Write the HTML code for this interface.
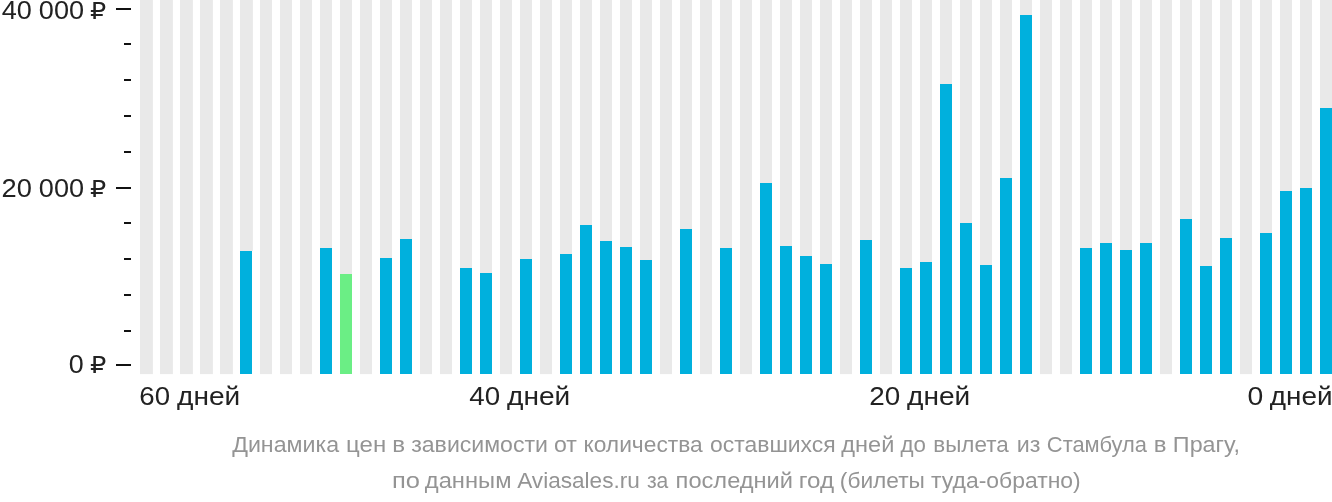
<!DOCTYPE html>
<html lang="ru"><head><meta charset="utf-8"><title>Динамика цен</title>
<style>
html,body{margin:0;padding:0;background:#fff;}
body{width:1332px;height:502px;overflow:hidden;position:relative;font-family:"Liberation Sans","DejaVu Sans",sans-serif;}
svg{position:absolute;left:0;top:0;display:block;}
text{white-space:pre;}
.ax{font-family:"Liberation Sans","DejaVu Sans",sans-serif;font-size:25px;fill:#222222;}
.axx{font-family:"Liberation Sans","DejaVu Sans",sans-serif;font-size:25.7px;fill:#222222;}
.rub{font-family:"DejaVu Sans","Liberation Sans",sans-serif;font-size:23.7px;}
.cap{font-family:"Liberation Sans","DejaVu Sans",sans-serif;font-size:22.5px;fill:#949494;}
</style></head><body>
<svg width="1332" height="502" viewBox="0 0 1332 502">

<g fill="#e9e9e9">
<rect x="140" y="0" width="12.9" height="374.1"/>
<rect x="160" y="0" width="12.9" height="374.1"/>
<rect x="180" y="0" width="12.9" height="374.1"/>
<rect x="200" y="0" width="12.9" height="374.1"/>
<rect x="220" y="0" width="12.9" height="374.1"/>
<rect x="240" y="0" width="12.9" height="251.0"/>
<rect x="260" y="0" width="12" height="374.1"/>
<rect x="280" y="0" width="12" height="374.1"/>
<rect x="300" y="0" width="12" height="374.1"/>
<rect x="320" y="0" width="12" height="248.0"/>
<rect x="340" y="0" width="12" height="274.0"/>
<rect x="360" y="0" width="12" height="374.1"/>
<rect x="380" y="0" width="12" height="258.0"/>
<rect x="400" y="0" width="12" height="239.0"/>
<rect x="420" y="0" width="12" height="374.1"/>
<rect x="440" y="0" width="12" height="374.1"/>
<rect x="460" y="0" width="12" height="268.0"/>
<rect x="480" y="0" width="12" height="273.0"/>
<rect x="500" y="0" width="12" height="374.1"/>
<rect x="520" y="0" width="12" height="259.0"/>
<rect x="540" y="0" width="12" height="374.1"/>
<rect x="560" y="0" width="12" height="254.0"/>
<rect x="580" y="0" width="12" height="225.0"/>
<rect x="600" y="0" width="12" height="241.0"/>
<rect x="620" y="0" width="12" height="247.0"/>
<rect x="640" y="0" width="12" height="260.0"/>
<rect x="660" y="0" width="12" height="374.1"/>
<rect x="680" y="0" width="12" height="229.0"/>
<rect x="700" y="0" width="12" height="374.1"/>
<rect x="720" y="0" width="12" height="248.0"/>
<rect x="740" y="0" width="12" height="374.1"/>
<rect x="760" y="0" width="12" height="183.0"/>
<rect x="780" y="0" width="12" height="246.0"/>
<rect x="800" y="0" width="12" height="256.0"/>
<rect x="820" y="0" width="12" height="264.0"/>
<rect x="840" y="0" width="12" height="374.1"/>
<rect x="860" y="0" width="12" height="240.0"/>
<rect x="880" y="0" width="12" height="374.1"/>
<rect x="900" y="0" width="12" height="268.0"/>
<rect x="920" y="0" width="12" height="262.0"/>
<rect x="940" y="0" width="12" height="84.0"/>
<rect x="960" y="0" width="12" height="223.0"/>
<rect x="980" y="0" width="12" height="265.0"/>
<rect x="1000" y="0" width="12" height="178.0"/>
<rect x="1020" y="0" width="12" height="15.0"/>
<rect x="1040" y="0" width="12" height="374.1"/>
<rect x="1060" y="0" width="12" height="374.1"/>
<rect x="1080" y="0" width="12" height="248.0"/>
<rect x="1100" y="0" width="12" height="243.0"/>
<rect x="1120" y="0" width="12" height="250.0"/>
<rect x="1140" y="0" width="12" height="243.0"/>
<rect x="1160" y="0" width="12" height="374.1"/>
<rect x="1180" y="0" width="12" height="219.0"/>
<rect x="1200" y="0" width="12" height="266.0"/>
<rect x="1220" y="0" width="12" height="238.0"/>
<rect x="1240" y="0" width="12" height="374.1"/>
<rect x="1260" y="0" width="12" height="233.0"/>
<rect x="1280" y="0" width="12" height="191.0"/>
<rect x="1300" y="0" width="12" height="188.0"/>
<rect x="1320" y="0" width="12" height="108.0"/>
</g>
<g fill="#00b0dd">
<rect x="240" y="251.00" width="12" height="123.00"/>
<rect x="320" y="248.00" width="12" height="126.00"/>
<rect x="340" y="274.00" width="12" height="100.00" fill="#6bee85"/>
<rect x="380" y="258.00" width="12" height="116.00"/>
<rect x="400" y="239.00" width="12" height="135.00"/>
<rect x="460" y="268.00" width="12" height="106.00"/>
<rect x="480" y="273.00" width="12" height="101.00"/>
<rect x="520" y="259.00" width="12" height="115.00"/>
<rect x="560" y="254.00" width="12" height="120.00"/>
<rect x="580" y="225.00" width="12" height="149.00"/>
<rect x="600" y="241.00" width="12" height="133.00"/>
<rect x="620" y="247.00" width="12" height="127.00"/>
<rect x="640" y="260.00" width="12" height="114.00"/>
<rect x="680" y="229.00" width="12" height="145.00"/>
<rect x="720" y="248.00" width="12" height="126.00"/>
<rect x="760" y="183.00" width="12" height="191.00"/>
<rect x="780" y="246.00" width="12" height="128.00"/>
<rect x="800" y="256.00" width="12" height="118.00"/>
<rect x="820" y="264.00" width="12" height="110.00"/>
<rect x="860" y="240.00" width="12" height="134.00"/>
<rect x="900" y="268.00" width="12" height="106.00"/>
<rect x="920" y="262.00" width="12" height="112.00"/>
<rect x="940" y="84.00" width="12" height="290.00"/>
<rect x="960" y="223.00" width="12" height="151.00"/>
<rect x="980" y="265.00" width="12" height="109.00"/>
<rect x="1000" y="178.00" width="12" height="196.00"/>
<rect x="1020" y="15.00" width="12" height="359.00"/>
<rect x="1080" y="248.00" width="12" height="126.00"/>
<rect x="1100" y="243.00" width="12" height="131.00"/>
<rect x="1120" y="250.00" width="12" height="124.00"/>
<rect x="1140" y="243.00" width="12" height="131.00"/>
<rect x="1180" y="219.00" width="12" height="155.00"/>
<rect x="1200" y="266.00" width="12" height="108.00"/>
<rect x="1220" y="238.00" width="12" height="136.00"/>
<rect x="1260" y="233.00" width="12" height="141.00"/>
<rect x="1280" y="191.00" width="12" height="183.00"/>
<rect x="1300" y="188.00" width="12" height="186.00"/>
<rect x="1320" y="108.00" width="12" height="266.00"/>
</g>
<g fill="#111">
<rect x="116" y="8" width="15" height="2"/>
<rect x="124" y="43" width="7" height="2"/>
<rect x="124" y="79" width="7" height="2"/>
<rect x="124" y="115" width="7" height="2"/>
<rect x="124" y="151" width="7" height="2"/>
<rect x="116" y="187" width="15" height="2"/>
<rect x="124" y="222" width="7" height="2"/>
<rect x="124" y="258" width="7" height="2"/>
<rect x="124" y="294" width="7" height="2"/>
<rect x="124" y="330" width="7" height="2"/>
<rect x="116" y="364" width="15" height="2"/>
</g>
<text class="ax" y="18.7"><tspan x="1.76" textLength="30.12" lengthAdjust="spacingAndGlyphs">40</tspan> <tspan x="38.82" textLength="45.23" lengthAdjust="spacingAndGlyphs">000</tspan> <tspan class="rub" x="90.09" textLength="16.20" lengthAdjust="spacingAndGlyphs">₽</tspan></text>
<text class="ax" y="197.0"><tspan x="1.54" textLength="30.35" lengthAdjust="spacingAndGlyphs">20</tspan> <tspan x="38.82" textLength="45.23" lengthAdjust="spacingAndGlyphs">000</tspan> <tspan class="rub" x="90.09" textLength="16.20" lengthAdjust="spacingAndGlyphs">₽</tspan></text>
<text class="ax" y="372.7"><tspan x="68.83" textLength="14.95" lengthAdjust="spacingAndGlyphs">0</tspan> <tspan class="rub" x="90.09" textLength="16.31" lengthAdjust="spacingAndGlyphs">₽</tspan></text>
<text class="axx" y="405.0"><tspan x="139.36" textLength="30.73" lengthAdjust="spacingAndGlyphs">60</tspan> <tspan x="177.03" textLength="63.15" lengthAdjust="spacingAndGlyphs">дней</tspan></text>
<text class="axx" y="405.0"><tspan x="469.26" textLength="30.83" lengthAdjust="spacingAndGlyphs">40</tspan> <tspan x="507.03" textLength="63.15" lengthAdjust="spacingAndGlyphs">дней</tspan></text>
<text class="axx" y="405.0"><tspan x="869.25" textLength="30.95" lengthAdjust="spacingAndGlyphs">20</tspan> <tspan x="907.13" textLength="63.15" lengthAdjust="spacingAndGlyphs">дней</tspan></text>
<text class="axx" y="405.0"><tspan x="1247.50" textLength="15.76" lengthAdjust="spacingAndGlyphs">0</tspan> <tspan x="1269.73" textLength="62.74" lengthAdjust="spacingAndGlyphs">дней</tspan></text>
<text class="cap" y="451.6"><tspan x="232.20" textLength="106.89" lengthAdjust="spacingAndGlyphs">Динамика</tspan> <tspan x="346.10" textLength="40.08" lengthAdjust="spacingAndGlyphs">цен</tspan> <tspan x="392.29" textLength="12.83" lengthAdjust="spacingAndGlyphs">в</tspan> <tspan x="411.19" textLength="136.78" lengthAdjust="spacingAndGlyphs">зависимости</tspan> <tspan x="553.93" textLength="22.91" lengthAdjust="spacingAndGlyphs">от</tspan> <tspan x="583.48" textLength="119.24" lengthAdjust="spacingAndGlyphs">количества</tspan> <tspan x="710.04" textLength="125.69" lengthAdjust="spacingAndGlyphs">оставшихся</tspan> <tspan x="841.34" textLength="53.02" lengthAdjust="spacingAndGlyphs">дней</tspan> <tspan x="900.45" textLength="25.45" lengthAdjust="spacingAndGlyphs">до</tspan> <tspan x="933.31" textLength="75.34" lengthAdjust="spacingAndGlyphs">вылета</tspan> <tspan x="1016.85" textLength="23.67" lengthAdjust="spacingAndGlyphs">из</tspan> <tspan x="1046.83" textLength="100.11" lengthAdjust="spacingAndGlyphs">Стамбула</tspan> <tspan x="1153.71" textLength="12.71" lengthAdjust="spacingAndGlyphs">в</tspan> <tspan x="1172.89" textLength="66.99" lengthAdjust="spacingAndGlyphs">Прагу,</tspan></text>
<text class="cap" y="487.8"><tspan x="391.90" textLength="27.98" lengthAdjust="spacingAndGlyphs">по</tspan> <tspan x="424.84" textLength="86.63" lengthAdjust="spacingAndGlyphs">данным</tspan> <tspan x="517.20" textLength="122.61" lengthAdjust="spacingAndGlyphs">Aviasales.ru</tspan> <tspan x="646.93" textLength="21.42" lengthAdjust="spacingAndGlyphs">за</tspan> <tspan x="675.62" textLength="117.40" lengthAdjust="spacingAndGlyphs">последний</tspan> <tspan x="798.79" textLength="35.31" lengthAdjust="spacingAndGlyphs">год</tspan> <tspan x="839.84" textLength="85.05" lengthAdjust="spacingAndGlyphs">(билеты</tspan> <tspan x="931.05" textLength="149.66" lengthAdjust="spacingAndGlyphs">туда-обратно)</tspan></text>
</svg></body></html>
